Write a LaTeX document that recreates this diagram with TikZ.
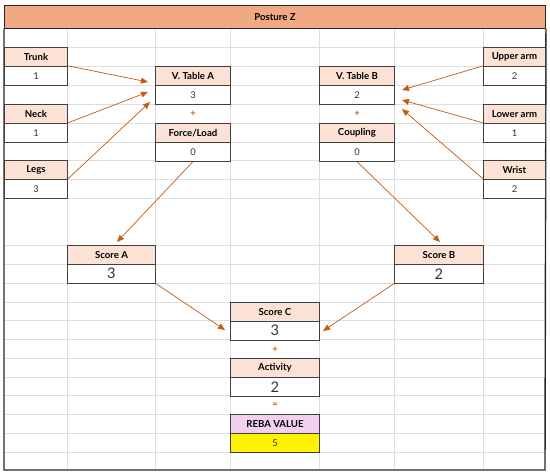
\documentclass[tikz,border=0pt]{standalone}
\usepackage{fontspec}
\setmainfont{Lato}
\usetikzlibrary{positioning,calc,arrows.meta}

\definecolor{titlefill}{HTML}{F1A983}
\definecolor{headfill}{HTML}{FBE2D5}
\definecolor{rebafill}{HTML}{F2CEEF}
\definecolor{arrowc}{HTML}{C55A11}

\begin{document}
\begin{tikzpicture}[
    x=0.03cm, y=-0.03cm,
    cell/.style={draw=black!75, line width=0.8pt, minimum height=0.565cm, inner sep=0pt, text=black!80},
    head/.style={cell, fill=headfill, font=\fontsize{8.2}{9}\selectfont\bfseries, text=black},
    val/.style={cell, fill=white, font=\fontsize{8}{9}\selectfont},
    bigval/.style={cell, fill=white, font=\fontsize{12.5}{13}\selectfont},
    op/.style={font=\fontsize{8}{9}\selectfont\bfseries, text=arrowc},
    link/.style={draw=arrowc, line width=0.6pt, -{Triangle[length=6pt,width=5pt]}},
    gridline/.style={draw=black!13, line width=0.5pt},
    frame/.style={draw=black!85, line width=1.2pt}
]
\useasboundingbox (0,0) rectangle (550,475);

% Sheet grid
\foreach \x in {67,155,230,319,394,483}
    \draw[gridline] (\x,28) -- (\x,470);
\foreach \y in {47,66,85,104,123,142,160,179,198,245,264,283,302,320,339,358,377,395,414,433,452}
    \draw[gridline] (4,\y) -- (545,\y);

% Title band and frame
\node[draw=black!85, line width=0.8pt, fill=titlefill, minimum width=16.23cm, minimum height=0.69cm,
      inner sep=0pt, anchor=north west, font=\fontsize{8.2}{9}\selectfont\bfseries] (title) at (4,5) {Posture Z};
\draw[frame] (title.south west) -- (4,470) -- (545,470) -- (title.south east);

% Body parts, group A
\node[head, minimum width=1.89cm, anchor=north west] (trunk) at (4,47) {Trunk};
\node[val, minimum width=1.89cm, below=-\pgflinewidth of trunk] (trunkv) {1};
\node[head, minimum width=1.89cm, anchor=north west] (neck) at (4,104) {Neck};
\node[val, minimum width=1.89cm, below=-\pgflinewidth of neck] (neckv) {1};
\node[head, minimum width=1.89cm, anchor=north west] (legs) at (4,160) {Legs};
\node[val, minimum width=1.89cm, below=-\pgflinewidth of legs] (legsv) {3};

% Table A
\node[head, minimum width=2.25cm, anchor=north west] (tabA) at (155,66) {V. Table A};
\node[val, minimum width=2.25cm, below=-\pgflinewidth of tabA] (tabAv) {3};
\node[head, minimum width=2.25cm, anchor=north west] (force) at (155,123) {Force/Load};
\node[val, minimum width=2.25cm, below=-\pgflinewidth of force] (forcev) {0};
\node[op] (plusA) at ($(tabAv.south)!0.5!(force.north)$) {+};

% Table B
\node[head, minimum width=2.25cm, anchor=north west] (tabB) at (319,66) {V. Table B};
\node[val, minimum width=2.25cm, below=-\pgflinewidth of tabB] (tabBv) {2};
\node[head, minimum width=2.25cm, anchor=north west] (coupling) at (319,123) {Coupling};
\node[val, minimum width=2.25cm, below=-\pgflinewidth of coupling] (couplingv) {0};
\node[op] (plusB) at ($(tabBv.south)!0.5!(coupling.north)$) {+};

% Body parts, group B
\node[head, minimum width=1.86cm, anchor=north west] (upper) at (483,47) {Upper arm};
\node[val, minimum width=1.86cm, below=-\pgflinewidth of upper] (upperv) {2};
\node[head, minimum width=1.86cm, anchor=north west] (lower) at (483,104) {Lower arm};
\node[val, minimum width=1.86cm, below=-\pgflinewidth of lower] (lowerv) {1};
\node[head, minimum width=1.86cm, anchor=north west] (wrist) at (483,160) {Wrist};
\node[val, minimum width=1.86cm, below=-\pgflinewidth of wrist] (wristv) {2};

% Scores
\node[head, minimum width=2.64cm, anchor=north west] (scoreA) at (67,245) {Score A};
\node[bigval, minimum width=2.64cm, below=-\pgflinewidth of scoreA] (scoreAv) {3};
\node[head, minimum width=2.67cm, anchor=north west] (scoreB) at (394,245) {Score B};
\node[bigval, minimum width=2.67cm, below=-\pgflinewidth of scoreB] (scoreBv) {2};

\node[head, minimum width=2.67cm, anchor=north west] (scoreC) at (230,302) {Score C};
\node[bigval, minimum width=2.67cm, below=-\pgflinewidth of scoreC] (scoreCv) {3};
\node[head, minimum width=2.67cm, anchor=north west] (activity) at (230,358) {Activity};
\node[bigval, minimum width=2.67cm, below=-\pgflinewidth of activity] (activityv) {2};
\node[head, fill=rebafill, minimum width=2.67cm, anchor=north west] (reba) at (230,414) {REBA VALUE};
\node[val, fill=yellow, minimum width=2.67cm, below=-\pgflinewidth of reba] (rebav) {5};
\node[op] (plusC) at ($(scoreCv.south)!0.5!(activity.north)$) {+};
\node[op] (equal) at ($(activityv.south)!0.5!(reba.north)$) {=};

% Arrow ends
\coordinate (inA1) at (148,82);
\coordinate (inA2) at (148,92);
\coordinate (inA3) at (150,102);
\coordinate (inB1) at (402,90);
\coordinate (inB2) at (402,100);
\coordinate (inB3) at (402,109);
\coordinate (inSA) at (117,242);
\coordinate (inSB) at (440,242);
\coordinate (inC1) at (225,330);
\coordinate (inC2) at (323,331);

% Arrows
\draw[link] (trunkv.north east) -- (inA1);
\draw[link] (neckv.north east) -- (inA2);
\draw[link] (legsv.north east) -- (inA3);
\draw[link] (upperv.north west) -- (inB1);
\draw[link] (lowerv.north west) -- (inB2);
\draw[link] (wristv.north west) -- (inB3);
\draw[link] (forcev.south) -- (inSA);
\draw[link] (couplingv.south) -- (inSB);
\draw[link] (scoreAv.south east) -- (inC1);
\draw[link] (scoreBv.south west) -- (inC2);

\end{tikzpicture}
\end{document}
